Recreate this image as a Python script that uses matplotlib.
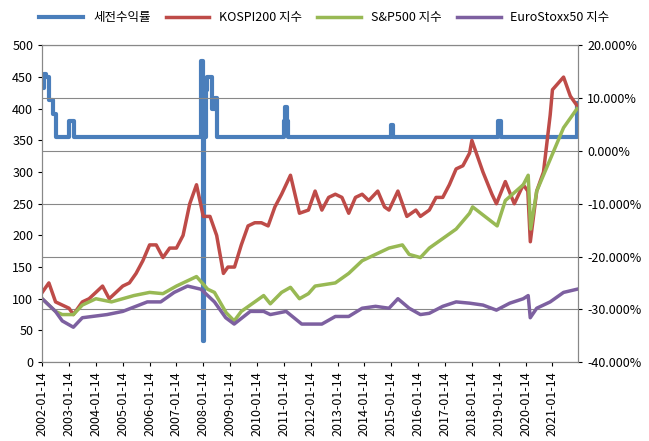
import matplotlib
matplotlib.use("Agg")
import matplotlib.pyplot as plt
import matplotlib.ticker as mt
import pandas as pd

plt.rcParams["font.family"] = ["Noto Sans CJK KR", "DejaVu Sans"]

kospi_dates = ["2002-01-14","2002-04-15","2002-07-15","2002-10-14","2003-01-14","2003-03-14","2003-07-14","2003-10-14","2004-01-14","2004-04-14","2004-07-14","2004-10-14","2005-01-14","2005-04-14","2005-07-14","2005-10-14","2006-01-14","2006-04-14","2006-07-14","2006-10-14","2007-01-14","2007-04-14","2007-07-14","2007-10-14","2008-01-14","2008-04-14","2008-07-14","2008-10-14","2008-12-14","2009-03-14","2009-06-14","2009-09-14","2009-12-14","2010-03-14","2010-06-14","2010-09-14","2010-12-14","2011-04-14","2011-08-14","2011-12-14","2012-03-14","2012-06-14","2012-09-14","2012-12-14","2013-03-14","2013-06-14","2013-09-14","2013-12-14","2014-03-14","2014-07-14","2014-10-14","2014-12-14","2015-04-14","2015-08-14","2015-12-14","2016-02-14","2016-06-14","2016-09-14","2016-12-14","2017-03-14","2017-06-14","2017-09-14","2017-12-14","2018-01-14","2018-06-14","2018-10-14","2018-12-14","2019-04-14","2019-08-14","2019-12-14","2020-02-14","2020-03-19","2020-06-14","2020-09-14","2020-12-14","2021-01-14","2021-06-14","2021-09-14","2021-12-14"]
kospi_vals = [110,125,95,90,85,75,95,100,110,120,100,110,120,125,140,160,185,185,165,180,180,200,250,280,230,230,200,140,150,150,185,215,220,220,215,245,265,295,235,240,270,240,260,265,260,235,260,265,255,270,245,240,270,230,240,230,240,260,260,280,305,310,330,350,300,265,250,285,250,280,270,190,270,300,390,430,450,420,405]

sp_dates = ["2002-01-14","2002-07-14","2002-10-14","2003-03-14","2003-07-14","2004-01-14","2004-08-14","2005-06-14","2006-01-14","2006-07-14","2007-01-14","2007-10-14","2008-03-14","2008-06-14","2008-11-20","2009-03-09","2009-06-14","2009-12-14","2010-04-14","2010-07-14","2010-12-14","2011-04-14","2011-08-14","2011-12-14","2012-03-14","2012-12-14","2013-06-14","2013-12-14","2014-06-14","2014-12-14","2015-06-14","2015-09-14","2016-02-14","2016-06-14","2016-12-14","2017-06-14","2017-12-14","2018-01-24","2018-12-24","2019-04-14","2019-12-14","2020-02-19","2020-03-23","2020-06-14","2020-12-14","2021-06-14","2021-12-14"]
sp_vals = [100,80,75,75,90,100,95,105,110,108,120,135,115,110,78,65,80,95,105,92,110,118,100,108,120,125,140,160,170,180,185,170,165,180,195,210,235,245,215,255,280,295,210,270,320,370,400]

euro_dates = ["2002-01-14","2002-07-14","2002-10-14","2003-03-14","2003-07-14","2004-06-14","2005-01-14","2005-12-14","2006-06-14","2006-12-14","2007-06-14","2007-12-14","2008-06-14","2008-11-14","2009-03-09","2009-10-14","2010-04-14","2010-07-14","2011-02-14","2011-09-14","2012-06-14","2012-12-14","2013-06-14","2013-12-14","2014-06-14","2014-12-14","2015-04-14","2015-09-14","2016-02-14","2016-06-14","2016-12-14","2017-06-14","2017-12-14","2018-06-14","2018-12-14","2019-06-14","2019-12-14","2020-02-19","2020-03-18","2020-06-14","2020-12-14","2021-06-14","2021-12-14"]
euro_vals = [100,80,65,55,70,75,80,95,95,110,120,115,95,70,60,80,80,75,80,60,60,72,72,85,88,85,100,85,75,77,88,95,93,90,82,93,100,105,70,85,95,110,115]

ret_dates = ["2002-01-14","2002-02-01","2002-03-01","2002-04-20","2002-06-10","2002-07-20","2003-01-14","2003-03-20","2007-12-20","2008-01-05","2008-01-20","2008-02-20","2008-03-10","2008-05-10","2008-06-20","2008-07-15","2011-01-10","2011-02-01","2011-02-20","2011-03-10","2015-01-10","2015-02-10","2019-01-10","2019-02-20","2021-12-10","2021-12-31"]
ret_vals = [12.0,14.5,14.0,9.7,7.0,2.7,5.6,2.7,17.0,-36.0,2.7,11.6,14.0,8.0,10.0,2.7,5.6,8.4,5.6,2.7,5.0,2.7,5.6,2.7,9.0,9.0]

tick_labels = [f"{y}-01-14" for y in range(2002, 2022)]

fig = plt.figure(figsize=(6.49, 4.41), dpi=100)
ax = fig.add_axes([0.065, 0.179, 0.826, 0.718])
ax2 = ax.twinx()

ax2.step(pd.to_datetime(ret_dates), ret_vals, where="post", color="#4a7ebb", lw=3, label="세전수익률", zorder=1)
ax.plot(pd.to_datetime(kospi_dates), kospi_vals, color="#be4b48", lw=2.5, label="KOSPI200 지수")
ax.plot(pd.to_datetime(sp_dates), sp_vals, color="#98b954", lw=2.5, label="S&P500 지수")
ax.plot(pd.to_datetime(euro_dates), euro_vals, color="#7d60a0", lw=2.5, label="EuroStoxx50 지수")
ax.set_zorder(ax2.get_zorder() + 1)
ax.patch.set_visible(False)

ax.set_ylim(0, 500)
ax.yaxis.set_major_locator(mt.MultipleLocator(50))
ax2.set_ylim(-40, 20)
ax2.yaxis.set_major_locator(mt.MultipleLocator(10))
ax2.yaxis.set_major_formatter(mt.FuncFormatter(lambda v, p: f"{v:.3f}%"))
ax2.grid(axis="y", color="#888888", lw=0.8)

ticks = pd.to_datetime(tick_labels)
ax.set_xticks(ticks)
ax.set_xticklabels(tick_labels, rotation=90)
ax.set_xlim(pd.Timestamp("2002-01-14"), pd.Timestamp("2021-12-31"))

for a in (ax, ax2):
    a.tick_params(labelsize=9, length=3)
    for s in a.spines.values():
        s.set_color("#888888")

h1, l1 = ax2.get_legend_handles_labels()
h2, l2 = ax.get_legend_handles_labels()
fig.legend(h1 + h2, l1 + l2, loc="upper center", ncol=4, frameon=False, fontsize=9,
           bbox_to_anchor=(0.5, 1.0), handlelength=3.5, columnspacing=1.2)

fig.savefig("out.png", dpi=100)
